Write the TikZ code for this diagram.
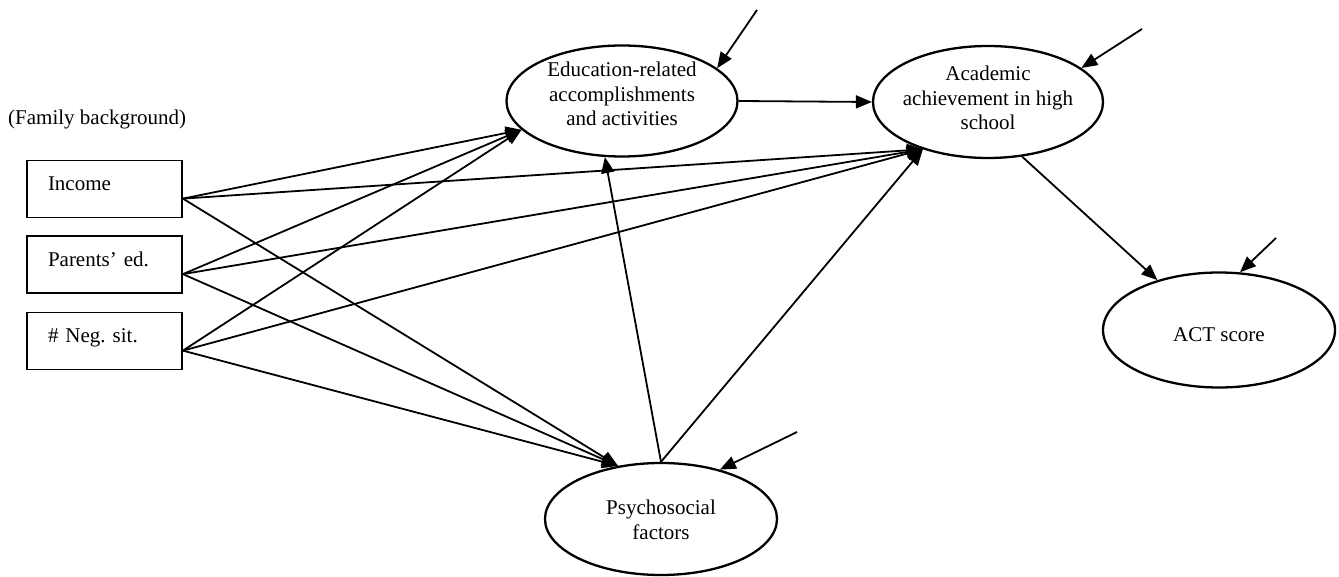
\documentclass[tikz,border=0pt]{standalone}
\usepackage{fontspec}
\setmainfont{Liberation Serif}
\usetikzlibrary{arrows.meta,shapes.geometric}
\frenchspacing
\begin{document}
\begin{tikzpicture}[x=1pt,y=-1pt,
  every node/.style={font=\fontsize{21}{24.5}\selectfont},
  latent/.style={draw, ellipse, line width=2.3pt, inner sep=0pt},
  obs/.style={draw, rectangle, line width=1.9pt, minimum width=155pt, minimum height=57pt,
    text width=113pt, align=left, inner xsep=21pt, inner ysep=0pt, text height=15pt, text depth=11pt},
  lbl/.style={align=center, inner sep=0pt},
  path/.style={line width=1.8pt, -{Triangle[length=16pt,width=13pt]}}]
\useasboundingbox (0,0) rectangle (1339,577);

% latent variables
\node[latent, minimum width=231pt, minimum height=111pt] (edu) at (622,101) {};
\node[lbl] (edu-t) at (622,94) {Education-related\\accomplishments\\and activities};
\node[latent, minimum width=230pt, minimum height=112pt] (acad) at (988,102) {};
\node[lbl] (acad-t) at (988,98) {Academic\\achievement in high\\school};
\node[latent, minimum width=232pt, minimum height=115pt] (act) at (1219,330) {};
\node[lbl] (act-t) at (1219,335) {ACT score};
\node[latent, minimum width=232pt, minimum height=112pt] (psy) at (661,519) {};
\node[lbl] (psy-t) at (661,520) {Psychosocial\\factors};

% observed family background
\node[anchor=base west, inner sep=0pt] (fam) at (8,125) {(Family background)};
\node[obs] (inc) at (104.5,189) {Income};
\node[obs] (par) at (104.5,264.5) {Parents’ ed.};
\node[obs] (neg) at (104.5,341) {\# Neg. sit.};

% error terms
\coordinate (e1) at (757,10);
\coordinate (e2) at (1142,29);
\coordinate (e3) at (1276,238);
\coordinate (e4) at (797,432);

% paths
\foreach \s in {inc,par,neg} {
  \draw[path] (\s.353) -- (edu.196);
  \draw[path] (\s.353) -- (acad.216);
  \draw[path] (\s.353) -- (psy.129);
}
\draw[path] (edu.east) -- (acad.west);
\draw[path] (psy.north) -- (edu.253);
\draw[path] (psy.north) -- (acad.216);
\draw[path] (acad.302) -- (act.141);

\draw[path] (e1) -- (edu.19);
\draw[path] (e2) -- (acad.20);
\draw[path] (e3) -- (act.70);
\draw[path] (e4) -- (psy.40);
\end{tikzpicture}
\end{document}
